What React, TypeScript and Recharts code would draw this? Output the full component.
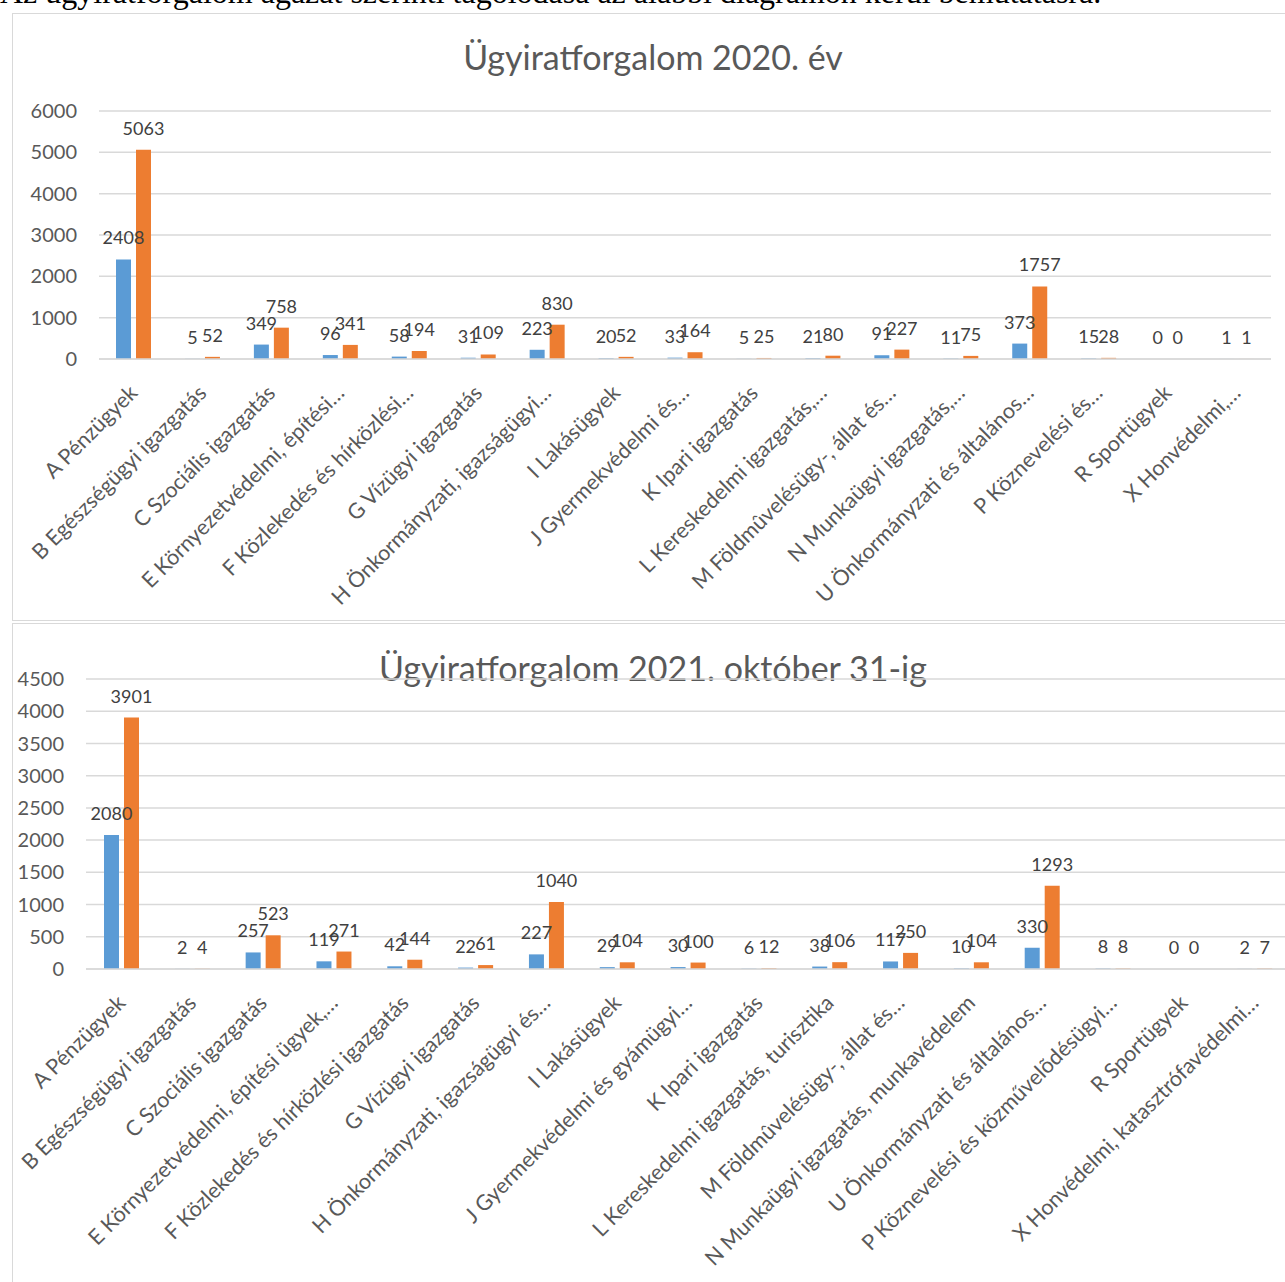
import React from 'react';
import { BarChart, Bar, XAxis, YAxis, CartesianGrid, LabelList } from 'recharts';

const categories2020 = [
  'A Pénzügyek',
  'B Egészségügyi igazgatás',
  'C Szociális igazgatás',
  'E Környezetvédelmi, építési…',
  'F Közlekedés és hírközlési…',
  'G Vízügyi igazgatás',
  'H Önkormányzati, igazságügyi…',
  'I Lakásügyek',
  'J Gyermekvédelmi és…',
  'K Ipari igazgatás',
  'L Kereskedelmi igazgatás,…',
  'M Földmûvelésügy-, állat és…',
  'N Munkaügyi igazgatás,…',
  'U Önkormányzati és általános…',
  'P Köznevelési és…',
  'R Sportügyek',
  'X Honvédelmi,…',
];
const blue2020 = [2408, 5, 349, 96, 58, 31, 223, 20, 33, 5, 21, 91, 11, 373, 15, 0, 1];
const orange2020 = [5063, 52, 758, 341, 194, 109, 830, 52, 164, 25, 80, 227, 75, 1757, 28, 0, 1];
const yTicks2020 = [0, 1000, 2000, 3000, 4000, 5000, 6000];

const categories2021 = [
  'A Pénzügyek',
  'B Egészségügyi igazgatás',
  'C Szociális igazgatás',
  'E Környezetvédelmi, építési ügyek,…',
  'F Közlekedés és hírközlési igazgatás',
  'G Vízügyi igazgatás',
  'H Önkormányzati, igazságügyi és…',
  'I Lakásügyek',
  'J Gyermekvédelmi és gyámügyi…',
  'K Ipari igazgatás',
  'L Kereskedelmi igazgatás, turisztika',
  'M Földmûvelésügy-, állat és…',
  'N Munkaügyi igazgatás, munkavédelem',
  'U Önkormányzati és általános…',
  'P Köznevelési és közművelõdésügyi…',
  'R Sportügyek',
  'X Honvédelmi, katasztrófavédelmi…',
];
const blue2021 = [2080, 2, 257, 119, 42, 22, 227, 29, 30, 6, 38, 117, 10, 330, 8, 0, 2];
const orange2021 = [3901, 4, 523, 271, 144, 61, 1040, 104, 100, 12, 106, 250, 104, 1293, 8, 0, 7];
const yTicks2021 = [0, 500, 1000, 1500, 2000, 2500, 3000, 3500, 4000, 4500];

const FONT = 'Lato, "Open Sans", sans-serif';
const BLUE = '#5B9BD5';
const ORANGE = '#ED7D31';
const GRID = '#d9d9d9';
const TEXT = '#595959';

function AngledTick(props: any) {
  const { x, y, payload } = props;
  return (
    <g transform={`translate(${x},${y + 30})`}>
      <text
        x={0}
        y={0}
        dy="0.35em"
        textAnchor="end"
        transform="rotate(-45)"
        fill={TEXT}
        fontSize={21.5}
        fontFamily={FONT}
      >
        {payload.value}
      </text>
    </g>
  );
}

// zero-valued bars still need their "0" label, so give them a hairline height
const zeroSafe = (value: any) => (Number(value) === 0 ? 0.01 : 0);

function buildRows(cats: string[], a: number[], b: number[]) {
  return cats.map((name, i) => ({ name, a: a[i], b: b[i] }));
}

interface PanelProps {
  title: string;
  rows: { name: string; a: number; b: number }[];
  ticks: number[];
  top: number;
  height: number;
  width: number;
  margin: { top: number; right: number; left: number; bottom: number };
  yWidth: number;
  xHeight: number;
  titleTop: number;
}

function Panel({ title, rows, ticks, top, height, width, margin, yWidth, xHeight, titleTop }: PanelProps) {
  return (
    <div
      style={{
        position: 'absolute',
        left: 12,
        top,
        width,
        height,
        border: `1.5px solid ${GRID}`,
        background: '#fff',
        boxSizing: 'border-box',
      }}
    >
      <div
        style={{
          position: 'absolute',
          left: 0,
          width: 1280,
          top: titleTop,
          textAlign: 'center',
          fontFamily: FONT,
          fontSize: 34,
          color: TEXT,
          lineHeight: '40px',
          whiteSpace: 'nowrap',
        }}
      >
        {title}
      </div>
      <BarChart width={width - 3} height={height - 3} data={rows} margin={margin} barSize={15} barGap={5}>
        <CartesianGrid vertical={false} stroke={GRID} strokeWidth={1.5} />
        <XAxis
          dataKey="name"
          interval={0}
          tickLine={false}
          tickSize={0}
          tickMargin={0}
          height={xHeight}
          axisLine={{ stroke: GRID, strokeWidth: 1.5 }}
          tick={<AngledTick />}
        />
        <YAxis
          width={yWidth}
          domain={[ticks[0], ticks[ticks.length - 1]]}
          ticks={ticks}
          axisLine={false}
          tickLine={false}
          tickSize={0}
          tickMargin={22}
          tick={{ fill: TEXT, fontSize: 20, fontFamily: FONT }}
        />
        <Bar dataKey="a" fill={BLUE} minPointSize={zeroSafe} isAnimationActive={false}>
          <LabelList dataKey="a" position="top" offset={15} fill="#404040" fontSize={18} fontFamily={FONT} />
        </Bar>
        <Bar dataKey="b" fill={ORANGE} minPointSize={zeroSafe} isAnimationActive={false}>
          <LabelList dataKey="b" position="top" offset={15} fill="#404040" fontSize={18} fontFamily={FONT} />
        </Bar>
      </BarChart>
    </div>
  );
}

export default function App() {
  const rows2020 = buildRows(categories2020, blue2020, orange2020);
  const rows2021 = buildRows(categories2021, blue2021, orange2021);
  return (
    <div
      style={{
        position: 'absolute',
        left: 0,
        top: 0,
        width: 1285,
        height: 1282,
        overflow: 'hidden',
        background: '#fff',
      }}
    >
      <div
        style={{
          position: 'absolute',
          left: 0,
          top: -27,
          fontFamily: '"Liberation Serif", "Times New Roman", serif',
          fontSize: 32,
          lineHeight: '38px',
          whiteSpace: 'nowrap',
          color: '#000',
        }}
      >
        Az ügyiratforgalom ágazat szerinti tagolódása az alábbi diagramon kerül bemutatásra.
      </div>
      <Panel
        title="Ügyiratforgalom 2020. év"
        rows={rows2020}
        ticks={yTicks2020}
        top={13}
        height={608}
        width={1300}
        margin={{ top: 97, right: 39, left: 0, bottom: 0 }}
        yWidth={86}
        xHeight={260}
        titleTop={23}
      />
      <Panel
        title="Ügyiratforgalom 2021. október 31-ig"
        rows={rows2021}
        ticks={yTicks2021}
        top={623}
        height={700}
        width={1330}
        margin={{ top: 55, right: 50, left: 0, bottom: 0 }}
        yWidth={73}
        xHeight={352}
        titleTop={24}
      />
    </div>
  );
}
